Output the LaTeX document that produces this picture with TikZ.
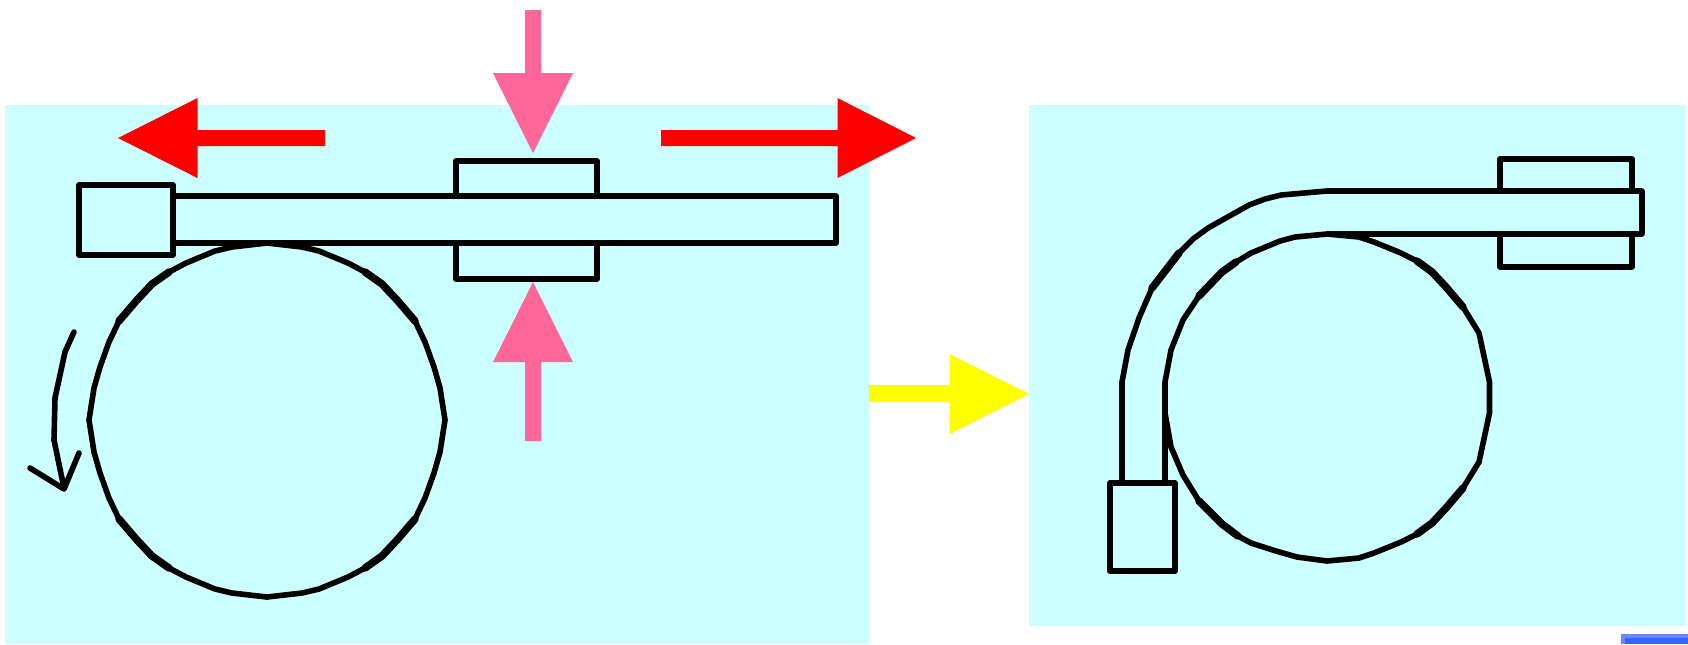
\documentclass[tikz,border=0pt]{standalone}
\usepackage{xcolor}
\usepackage{tikz}
\definecolor{cpanel}{HTML}{CCFFFF}
\definecolor{cred}{HTML}{FF0000}
\definecolor{cpink}{HTML}{FF6699}
\definecolor{cyellow}{HTML}{FFFF00}
\definecolor{cblue}{HTML}{3366FF}
\definecolor{cblue2}{HTML}{6688FF}
\tikzset{
	x=0.01cm, y=-0.01cm,
	wire/.style={black, line width=0.056cm, line join=round},
	wireheavy/.style={black, line width=0.075cm, line cap=round},
}

\begin{document}
\begin{tikzpicture}
	\useasboundingbox (0,0) rectangle (1688,644);

	% panels
	\fill[cpanel] (5,105) rectangle (870,644);
	\fill[cpanel] (1029,105) rectangle (1686,626);
	\fill[cblue2] (1621,634) rectangle (1688,644);
	\fill[cblue] (1625,638) rectangle (1688,644);

	% left side
	\draw[wire] (456,196) |- (597,161) -- (597,196);
	\draw[wire] (456,243) |- (597,279) -- (597,243);
	\draw[wire] (173,196) -- (836,196) -- (836,243) -- (173,243);
	\draw[wire] (79,185) rectangle (173,255);
	\draw[wire] (267,243) -- (302,247) -- (319,251) -- (348,263) -- (365,272) -- (382,284) -- (397,300) -- (415,321) -- (425,342) -- (434,367) -- (440,388) -- (445,420)
		-- (440,452) -- (434,473) -- (425,498) -- (415,519) -- (397,540) -- (382,556) -- (365,568) -- (348,577) -- (319,589) -- (302,593) -- (267,597)
		-- (232,593) -- (215,589) -- (186,577) -- (169,568) -- (152,556) -- (137,540) -- (119,519) -- (109,498) -- (100,473) -- (94,452) -- (89,420)
		-- (94,388) -- (100,367) -- (109,342) -- (119,321) -- (137,300) -- (152,284) -- (169,272) -- (186,263) -- (215,251) -- (232,247) -- cycle;
	\draw[wireheavy] (365,272) -- (382,284) -- (397,300) -- (415,321);
	\draw[wireheavy] (365,568) -- (382,556) -- (397,540) -- (415,519);
	\draw[wireheavy] (169,568) -- (152,556) -- (137,540) -- (119,519);
	\draw[wireheavy] (169,272) -- (152,284) -- (137,300) -- (119,321);

	\draw[wire, line cap=round] (74,332) -- (65,352) -- (55,398) -- (54,440) -- (64,488);
	\draw[wire, line cap=round] (30,468) -- (64,489) -- (79,453);

	% pull and press arrows
	\fill[cred] (118,138) -- (197.5,98) -- (197.5,130) -- (325,130) -- (325,146) -- (197.5,146) -- (197.5,178) -- cycle;
	\fill[cred] (916,138) -- (837.5,98) -- (837.5,130) -- (661,130) -- (661,146) -- (837.5,146) -- (837.5,178) -- cycle;
	\fill[cpink] (533,153) -- (493,73) -- (525,73) -- (525,10) -- (541,10) -- (541,73) -- (573,73) -- cycle;
	\fill[cpink] (533,282) -- (493,362) -- (525,362) -- (525,441) -- (541,441) -- (541,362) -- (573,362) -- cycle;
	\fill[cyellow] (1029,394) -- (949.5,354) -- (949.5,385) -- (869,385) -- (869,402) -- (949.5,402) -- (949.5,434) -- cycle;

	% right side
	\draw[wire] (1500,191) |- (1632,159) -- (1632,191);
	\draw[wire] (1500,234) |- (1632,267) -- (1632,234);
	\draw[wire] (1122,483) -- (1122,382) -- (1128,350) -- (1139,318) -- (1152,288) -- (1179,253) -- (1193,239) -- (1208,228) -- (1249,205) -- (1265,199) -- (1281,195) -- (1327,191)
		-- (1642,191) -- (1642,234) -- (1327,234);
	\draw[wire] (1165,483) -- (1165,382) -- (1171,350) -- (1183,320) -- (1199,296) -- (1222,272) -- (1236,262) -- (1251,253) -- (1280,241) -- (1295,237) -- (1327,234)
		-- (1359,237) -- (1374,242) -- (1401,253) -- (1417,261) -- (1432,272) -- (1446,287) -- (1463,307) -- (1479,333) -- (1489.5,382) -- (1489.5,413)
		-- (1479,462) -- (1463,488) -- (1446,508) -- (1432,523) -- (1417,534) -- (1401,542) -- (1374,553) -- (1359,558) -- (1327,561)
		-- (1297,557) -- (1276,551) -- (1251,543) -- (1238,536) -- (1222,524) -- (1199,501) -- (1183,475) -- (1171,447) -- (1165,413);
	\draw[wireheavy] (1417,261) -- (1432,272) -- (1446,287) -- (1463,307);
	\draw[wireheavy] (1417,534) -- (1432,523) -- (1446,508) -- (1463,488);
	\draw[wireheavy] (1238,536) -- (1222,524) -- (1199,501);
	\draw[wireheavy] (1236,262) -- (1222,272) -- (1199,296);
	\draw[wireheavy] (1179,253) -- (1152,288);
	\draw[wire] (1110,483) rectangle (1175,571);
\end{tikzpicture}
\end{document}
